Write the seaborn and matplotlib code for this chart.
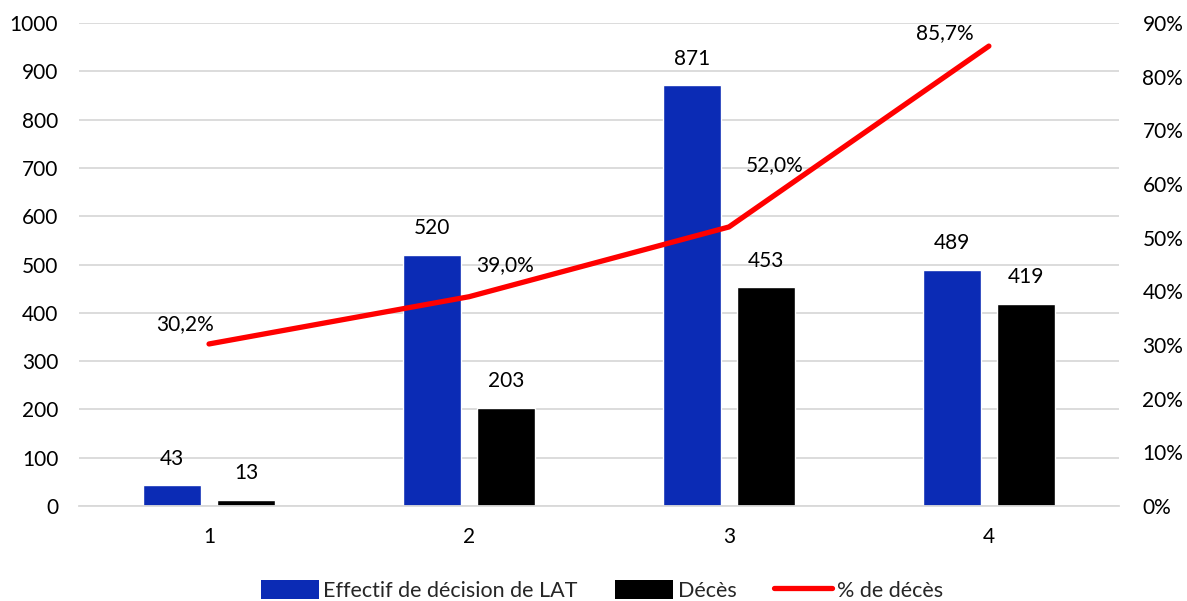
import matplotlib
matplotlib.use("Agg")
import matplotlib.pyplot as plt
from matplotlib.patches import Patch
from matplotlib.lines import Line2D
from matplotlib.ticker import FuncFormatter
import seaborn as sns
import pandas as pd
import numpy as np

categories = ["1", "2", "3", "4"]
effectif = [43, 520, 871, 489]
deces = [13, 203, 453, 419]
pct_deces = [30.2, 39.0, 52.0, 85.7]

series_names = ["Effectif de décision de LAT", "Décès"]
line_name = "% de décès"
left_ticks = list(range(0, 1001, 100))
right_ticks = list(range(0, 91, 10))

BLUE = "#0B2BB5"
BLACK = "#000000"
RED = "#FF0000"
GRID = "#D9D9D9"
FS = 15

sns.set_theme(style="white")
plt.rcParams["font.family"] = ["Lato", "DejaVu Sans"]

df = pd.DataFrame({
    "cat": categories * 2,
    "val": effectif + deces,
    "serie": [series_names[0]] * 4 + [series_names[1]] * 4,
})

fig = plt.figure(figsize=(11.87, 6.01), dpi=100)
ax = fig.add_axes([0.0666, 0.158, 0.876, 0.8037])

sns.barplot(data=df, x="cat", y="val", hue="serie", order=categories,
            hue_order=series_names, palette=[BLUE, BLACK], width=0.57, gap=0.22,
            saturation=1, ax=ax, legend=False)

ax.set_xlim(-0.5, 3.5)
ax.set_ylim(0, 1000)
ax.set_yticks(left_ticks)
ax.set_xlabel("")
ax.set_ylabel("")
ax.grid(axis="y", color=GRID, linewidth=1.3)
ax.set_axisbelow(True)
for s in ["top", "right", "left"]:
    ax.spines[s].set_visible(False)
ax.spines["bottom"].set_color(GRID)
ax.spines["bottom"].set_linewidth(1.3)
ax.tick_params(axis="both", length=0, labelsize=FS, colors="black")
ax.tick_params(axis="y", pad=15)
ax.tick_params(axis="x", pad=15)

for cont in ax.containers:
    ax.bar_label(cont, fmt="%d", padding=12, fontsize=FS, color="black")

ax2 = ax.twinx()
ax2.set_position(ax.get_position())
sns.lineplot(x=np.arange(len(categories)), y=pct_deces, color=RED, linewidth=3.8,
             ax=ax2, solid_capstyle="round")
ax2.set_ylim(0, 90)
ax2.set_yticks(right_ticks)
ax2.yaxis.set_major_formatter(FuncFormatter(lambda v, p: f"{int(v)}%"))
ax2.tick_params(axis="y", length=0, labelsize=FS, pad=17, colors="black")
for s in ["top", "right", "left", "bottom"]:
    ax2.spines[s].set_visible(False)
ax2.grid(False)

label_offsets = [(-24, 20), (36, 32), (46, 62), (-44, 13)]
for i, (v, off) in enumerate(zip(pct_deces, label_offsets)):
    ax2.annotate(f"{v:.1f}%".replace(".", ","), (i, v), xytext=off,
                 textcoords="offset pixels", ha="center", va="center",
                 fontsize=FS, color="black")

handles = [Patch(facecolor=BLUE, edgecolor="none"),
           Patch(facecolor=BLACK, edgecolor="none"),
           Line2D([0], [0], color=RED, linewidth=3.8, solid_capstyle="round")]
fig.legend(handles, series_names + [line_name], loc="center", ncol=3,
           bbox_to_anchor=(0.507, 0.018), frameon=False, fontsize=15.5,
           handlelength=2.7, handleheight=1.0, handletextpad=0.2, columnspacing=1.75)

fig.savefig("out.png", dpi=100)
